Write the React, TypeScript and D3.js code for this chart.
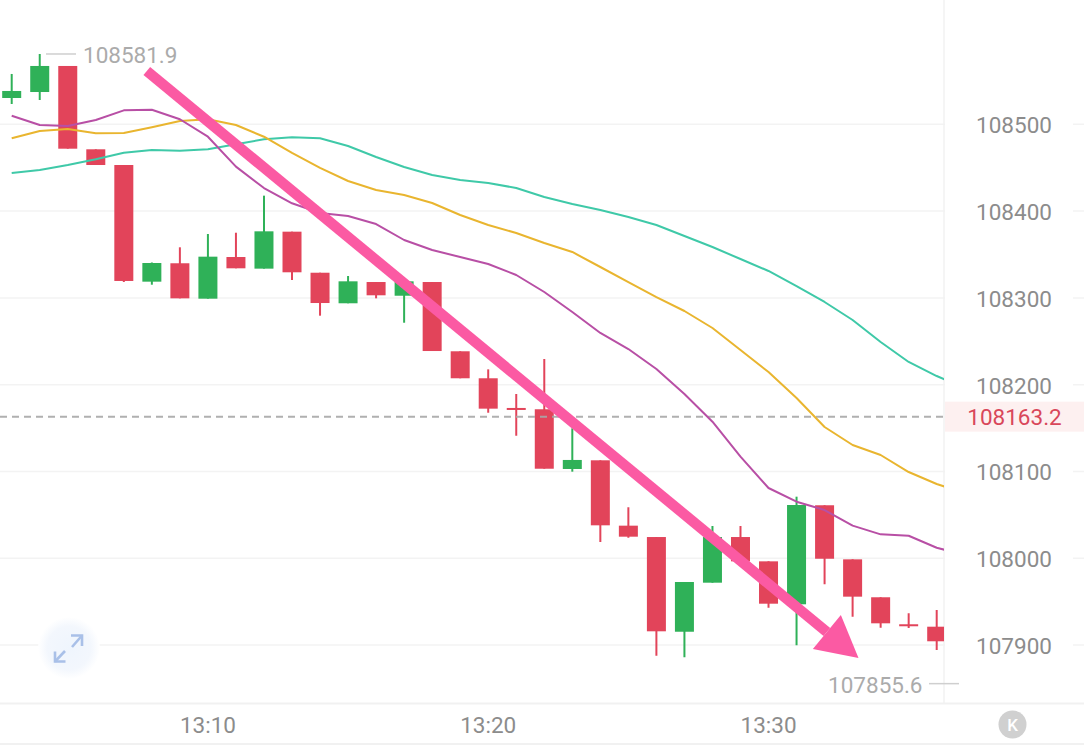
import React from "react";
import * as d3 from "d3";

const WIDTH = 1084;
const HEIGHT = 746;
const FONT = "Roboto, sans-serif";

const times = ["13:10", "13:20", "13:30"];
const timeIndex = [7, 17, 27];
const priceTicks = [108500, 108400, 108300, 108200, 108100, 108000, 107900];
const lastPrice = 108163.2;
const highPrice = 108581.9;
const lowPrice = 107855.6;

const opens = [
  108530.3, 108537.2, 108567.2, 108471.2, 108453.1, 108318.7, 108339.9, 108299.1, 108347.1, 108333.7,
  108376.3, 108329.0, 108293.8, 108318.3, 108302.5, 108318.3, 108238.5, 108207.4, 108173.2, 108171.7,
  108102.9, 108112.9, 108037.6, 108024.5, 107915.4, 107971.9, 108024.5, 107996.5, 107947.0, 108061.1,
  107998.8, 107955.1, 107924.0, 107921.2,
];
const closes = [
  108538.4, 108567.2, 108471.9, 108453.1, 108319.5, 108340.2, 108299.5, 108347.5, 108334.1, 108376.7,
  108329.5, 108294.1, 108319.1, 108303.0, 108319.1, 108238.8, 108207.4, 108172.4, 108170.9, 108103.2,
  108113.3, 108038.0, 108024.9, 107915.9, 107972.7, 108024.5, 107996.5, 107947.7, 108061.4, 107999.5,
  107955.8, 107925.1, 107921.7, 107904.4,
];
const highs = [
  108558.0, 108581.0, 108567.2, 108471.2, 108453.1, 108340.8, 108358.3, 108373.6, 108375.1, 108417.8,
  108376.3, 108329.0, 108325.2, 108318.3, 108319.1, 108318.3, 108238.5, 108217.7, 108189.3, 108229.6,
  108149.8, 108112.9, 108058.8, 108024.5, 107972.7, 108037.2, 108037.2, 107996.5, 108071.0, 108061.1,
  107998.8, 107955.1, 107936.6, 107940.4,
];
const lows = [
  108523.4, 108528.0, 108471.9, 108453.1, 108318.3, 108315.2, 108299.5, 108299.1, 108334.1, 108333.7,
  108320.6, 108279.5, 108293.8, 108299.5, 108271.4, 108238.8, 108207.4, 108167.7, 108141.2, 108103.2,
  108099.8, 108018.8, 108023.7, 107887.8, 107885.9, 107971.9, 107996.5, 107943.1, 107899.8, 107970.0,
  107932.7, 107920.0, 107919.7, 107894.4,
];

const maPurple = [
  108509.9, 108499.2, 108498.1, 108505.0, 108516.1, 108516.8, 108505.8, 108485.7, 108451.2, 108426.6,
  108409.0, 108397.8, 108394.4, 108385.1, 108366.7, 108355.2, 108347.1, 108339.1, 108326.4, 108306.8,
  108283.8, 108259.6, 108241.1, 108218.1, 108189.3, 108157.4, 108117.1, 108081.0, 108065.2, 108055.6,
  108037.6, 108027.6, 108026.0, 108012.2, 108003.8,
];
const maYellow = [
  108483.9, 108492.3, 108494.6, 108489.6, 108490.0, 108496.6, 108503.8, 108505.8, 108499.2, 108485.7,
  108467.0, 108449.7, 108434.7, 108424.3, 108418.6, 108409.3, 108395.5, 108384.0, 108374.8, 108363.3,
  108352.9, 108335.6, 108318.3, 108301.0, 108284.9, 108265.3, 108240.0, 108214.6, 108184.7, 108151.3,
  108130.5, 108119.0, 108099.4, 108085.6, 108075.2,
];
const maTeal = [
  108443.9, 108447.4, 108453.1, 108459.7, 108467.3, 108470.4, 108469.6, 108471.2, 108477.0, 108482.7,
  108485.0, 108483.9, 108475.0, 108462.3, 108450.8, 108441.6, 108435.8, 108432.4, 108426.6, 108416.3,
  108408.2, 108401.3, 108393.2, 108384.0, 108371.3, 108358.6, 108344.8, 108331.0, 108313.7, 108295.3,
  108274.5, 108249.2, 108226.2, 108210.0, 108196.2,
];

// Hand-drawn annotation arrow, anchored in chart coordinates [candle index, price]
const arrowFrom: [number, number] = [4.82, 108561.4];
const arrowTip: [number, number] = [30.21, 107885.1];

const UP = "#2fb158";
const DOWN = "#e2445a";
const PINK = "#fb5aa3";

export default function App() {
  const x = d3.scaleLinear().domain([0, 33]).range([11.7, 936.7]);
  const y = d3.scaleLinear().domain([107900, 108500]).range([645.1, 124.3]);
  const plotRight = 944;
  const axisY = 703.5;
  const bodyW = 19;

  const line = d3
    .line<number>()
    .x((_, i) => x(i))
    .y((d) => y(d))
    .curve(d3.curveLinear);

  const mas = [
    { values: maTeal, color: "#3fc9a8" },
    { values: maYellow, color: "#e9b52f" },
    { values: maPurple, color: "#b84fa5" },
  ];

  // arrow geometry
  const ax0 = x(arrowFrom[0]);
  const ay0 = y(arrowFrom[1]);
  const tx = x(arrowTip[0]);
  const ty = y(arrowTip[1]);
  const len = Math.hypot(tx - ax0, ty - ay0);
  const ux = (tx - ax0) / len;
  const uy = (ty - ay0) / len;
  const headL = 41;
  const headW = 22;
  const bx = tx - ux * headL;
  const by = ty - uy * headL;
  const head = d3.line()([
    [tx, ty],
    [bx - uy * headW, by + ux * headW],
    [bx + uy * headW, by - ux * headW],
  ]) + "Z";

  const axisText = { fontFamily: FONT, fontSize: 22.5, fill: "#8c8c8c" };
  const extremeText = { fontFamily: FONT, fontSize: 22.5, fill: "#ababab" };

  return (
    <svg
      width={WIDTH}
      height={HEIGHT}
      viewBox={`0 0 ${WIDTH} ${HEIGHT}`}
      style={{ position: "absolute", left: 0, top: 0, display: "block", background: "#fff" }}
    >
      <defs>
        <clipPath id="plot">
          <rect x={0} y={0} width={plotRight} height={axisY} />
        </clipPath>
        <radialGradient id="iconBg">
          <stop offset="0%" stopColor="#eff5fd" />
          <stop offset="70%" stopColor="#f3f7fd" />
          <stop offset="100%" stopColor="#ffffff" />
        </radialGradient>
      </defs>

      {/* grid */}
      {priceTicks.map((p) => (
        <line key={p} x1={0} x2={WIDTH} y1={y(p)} y2={y(p)} stroke="#f3f3f3" strokeWidth={1.5} />
      ))}
      <line x1={plotRight} x2={plotRight} y1={0} y2={axisY} stroke="#f2f2f2" strokeWidth={1.5} />
      <line x1={0} x2={WIDTH} y1={axisY} y2={axisY} stroke="#f1f1f1" strokeWidth={2} />
      <line x1={0} x2={WIDTH} y1={744} y2={744} stroke="#f1f1f1" strokeWidth={2} />

      {/* y labels */}
      {priceTicks.map((p) => (
        <g key={p}>
          <rect x={plotRight + 1} y={y(p) - 5} width={128} height={10} fill="#fff" />
          <text x={1014} y={y(p) + 0.8} textAnchor="middle" dominantBaseline="central" {...axisText}>
            {p}
          </text>
        </g>
      ))}

      {/* x labels */}
      {times.map((t, i) => (
        <text key={t} x={x(timeIndex[i])} y={725} textAnchor="middle" dominantBaseline="central" {...axisText}>
          {t}
        </text>
      ))}

      {/* expand icon */}
      <circle cx={69} cy={648} r={31} fill="url(#iconBg)" />
      <g fill="none" stroke="#a9c0e8" strokeWidth={2.6}>
        <path d="M71 635.5H82V646" />
        <path d="M82 635.5L72 647" />
        <path d="M55 651.5V661.5H65.5" />
        <path d="M55 661.5L65 651" />
      </g>

      {/* candles */}
      <g clipPath="url(#plot)">
        {opens.map((o, i) => {
          const c = closes[i];
          const color = c >= o ? UP : DOWN;
          const top = y(Math.max(o, c));
          const bottom = y(Math.min(o, c));
          return (
            <g key={i}>
              <line x1={x(i)} x2={x(i)} y1={y(highs[i])} y2={y(lows[i])} stroke={color} strokeWidth={2} />
              <rect x={x(i) - bodyW / 2} y={top} width={bodyW} height={Math.max(bottom - top, 2)} fill={color} />
            </g>
          );
        })}
      </g>

      {/* last price */}
      <line
        x1={0}
        x2={plotRight}
        y1={y(lastPrice)}
        y2={y(lastPrice)}
        stroke="#a8a8a8"
        strokeWidth={2}
        strokeDasharray="7 5"
        opacity={0.9}
      />
      <rect x={plotRight + 1} y={y(lastPrice) - 15} width={WIDTH - plotRight} height={30} fill="#fdf0f0" />
      <text x={1014.5} y={y(lastPrice) + 0.8} textAnchor="middle" dominantBaseline="central" fontFamily={FONT} fontSize={22.5} fill="#d9475a">
        {lastPrice.toFixed(1)}
      </text>

      {/* moving averages */}
      <g clipPath="url(#plot)" fill="none" strokeWidth={2} strokeLinejoin="round">
        {mas.map((m) => (
          <path key={m.color} d={line(m.values) ?? ""} stroke={m.color} />
        ))}
      </g>

      {/* extremes */}
      <line x1={46} x2={76} y1={y(highs[1])} y2={y(highs[1])} stroke="#cfcfcf" strokeWidth={1.5} />
      <text x={83} y={y(highs[1]) + 1} dominantBaseline="central" {...extremeText}>
        {highPrice.toFixed(1)}
      </text>
      <line x1={929} x2={959} y1={y(lowPrice)} y2={y(lowPrice)} stroke="#cfcfcf" strokeWidth={1.5} />
      <text x={922.5} y={y(lowPrice) + 1} textAnchor="end" dominantBaseline="central" {...extremeText}>
        {lowPrice.toFixed(1)}
      </text>

      {/* K badge */}
      <circle cx={1012.5} cy={724.5} r={14} fill="#d0d0d0" />
      <text x={1012.5} y={725} textAnchor="middle" dominantBaseline="central" fontFamily={FONT} fontSize={17} fontWeight={500} fill="#fff">
        K
      </text>

      {/* annotation arrow */}
      <line x1={ax0} y1={ay0} x2={bx} y2={by} stroke={PINK} strokeWidth={10.5} />
      <path d={head} fill={PINK} />
    </svg>
  );
}
